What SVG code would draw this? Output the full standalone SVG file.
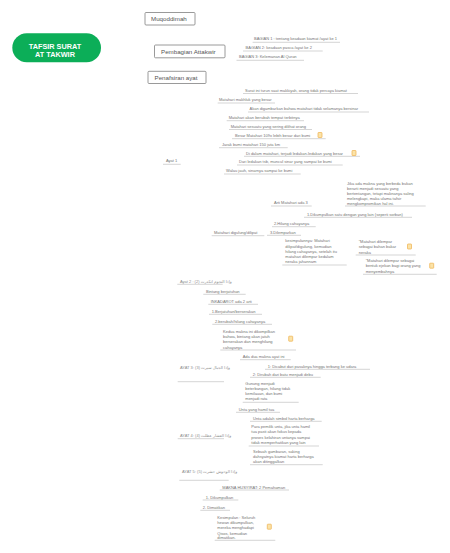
<svg xmlns="http://www.w3.org/2000/svg" width="450" height="553" viewBox="0 0 450 553">
<style>
text{font-family:"Liberation Sans",Arial,"DejaVu Sans",sans-serif;font-size:4px;fill:#737373}
.ar{font-family:"Liberation Sans","DejaVu Sans",sans-serif;fill:#8c8c8c}
.root{font-size:7.3px;font-weight:bold;fill:#fff;text-anchor:middle}
.main{font-size:6.2px;fill:#555}
.box{fill:#fff;stroke:#808080;stroke-width:.8}
.u{stroke:#cacaca;stroke-width:.8;fill:none}
</style>
<defs>
<g id="note"><rect x="-2" y="-2.5" width="4" height="5" rx=".5" fill="#fbe3a8" stroke="#eeb04e" stroke-width=".7"/></g>
</defs>
<rect width="450" height="553" fill="#fff"/>
<g id="connectors">
<path class="u" d="M252.6 42.3H340M243 51H322.7M236.5 60.3H304M243 93.5H358M217.7 103H275M248 112H369M226.7 120.7H304M229 129.5H312M232 138.7H325.7M219 147.7H287.7M244 156.3H360M237 165H342.7M224 174H300.7M163 164.3H180.7M345 206H425.7M271 206H311.7M304 217.3H412M272 226.7H315.7M267 235.3H301M211.7 235.7H264.3M282.3 265H346.7M355.7 255H415.7M363 274.3H436.7M177.3 284.3H222.7M203.3 294.3H245.7M208.3 304.3H258M209 314.3H262M212.3 324.3H272M220.3 350H296M240 359.7H290.7M265 369.3H370M177.7 381.7H224M250 377.3H320.7M242.7 402.3H298.7M236 412.3H280M250 421.3H321.7M248.7 446H319M177.7 438.7H224M250 464.7H322.7M179.3 480.3H228.7M219.7 490H289M202.7 500H238.3M200.3 510.3H230M214.7 540.3H275.3"/>
</g>
<g id="root"><rect x="12.3" y="33.3" width="88.7" height="29" rx="14.5" fill="#0cae58"/><text class="root" x="55" y="48.5">TAFSIR SURAT</text><text class="root" x="55" y="57">AT TAKWIR</text></g>
<g id="muqoddimah"><rect class="box" x="145" y="12.5" width="50" height="12.5" rx="1"/><text class="main" x="151" y="21">Muqoddimah</text></g>
<g id="pembagian"><rect class="box" x="154.5" y="45" width="70.5" height="12.8" rx="1"/><text class="main" x="161" y="53.5">Pembagian Attakwir</text></g>
<g id="penafsiran"><rect class="box" x="148" y="71.3" width="58" height="12.2" rx="1"/><text class="main" x="154.5" y="80">Penafsiran ayat</text></g>
<g id="b1"><text x="254" y="40">BAGIAN 1 : tentang keadaan kiamat /ayat ke 1</text></g>
<g id="b2"><text x="245.6" y="49">BAGIAN 2: keadaan pasca /ayat ke 2</text></g>
<g id="b3"><text x="239" y="58">BAGIAN 3: Kelemanan Al Quran</text></g>
<g id="a1"><text x="245" y="92">Surat ini turun saat makkiyah, orang tidak percaya kiamat</text></g>
<g id="a2"><text x="219" y="101">Matahari makhluk yang besar</text></g>
<g id="a3"><text x="249.5" y="110">Akan digambarkan bahwa matahari tidak selamanya bersinar</text></g>
<g id="a4"><text x="228.7" y="119">Matahari akan berubah tempat terbitnya</text></g>
<g id="a5"><text x="230.7" y="128">Matahari sesuatu yang sering dilihat orang</text></g>
<g id="a6"><text x="235" y="137">Besar Matahari 109x lebih besar dari bumi</text><use href="#note" x="320" y="135"/></g>
<g id="a7"><text x="222" y="146">Jarak bumi matahari 150 juta km</text></g>
<g id="a8"><text x="246" y="154.5">Di dalam matahari, terjadi ledakan-ledakan yang besar</text><use href="#note" x="354" y="153"/></g>
<g id="a9"><text x="239" y="163.3">Dari ledakan tsb, muncul sinar yang sampai ke bumi</text></g>
<g id="a10"><text x="226" y="172">Walau jauh, sinarnya sampai ke bumi</text></g>
<g id="ayat1"><text x="166" y="162">Ayat 1</text></g>
<g id="m1"><text x="347" y="184.5">Jika ada makna yang berbeda bukan</text><text x="347" y="189.5">berarti menjadi sesuatu yang</text><text x="347" y="195">bertentangan, tetapi maknanya saling</text><text x="347" y="200">melengkapi, maka ulama tafsir</text><text x="347" y="205">mengkompromikan hal ini.</text></g>
<g id="m2"><text x="274" y="204">Arti Matahari ada 3</text></g>
<g id="m3"><text x="307" y="215.5">1.Dikumpulkan satu dengan yang lain (seperti sorban)</text></g>
<g id="m4"><text x="274" y="224.5">2.Hilang cahayanya</text></g>
<g id="m5"><text x="270" y="233.5">3.Dilemparkan</text></g>
<g id="m6"><text x="214" y="234">Matahari digulung/dilipat</text></g>
<g id="m7"><text x="285.3" y="242">kesimpulannya: Matahari</text><text x="285.3" y="248">dilipat/digulung, kemudian</text><text x="285.3" y="253">hilang cahayanya, setelah itu</text><text x="285.3" y="258">matahari dilempar kedalam</text><text x="285.3" y="263">neraka jahannam</text></g>
<g id="m8"><text x="358.7" y="243">"Matahari dilempar</text><text x="358.7" y="248">sebagai bahan bakar</text><text x="358.7" y="253.5">neraka</text><use href="#note" x="409.5" y="246.5"/></g>
<g id="m9"><text x="365.7" y="262">"Matahari dilempar sebagai</text><text x="365.7" y="267">bentuk ejekan bagi orang yang</text><text x="365.7" y="273">menyembahnya</text><use href="#note" x="431.7" y="265.7"/></g>
<g id="ayat2"><text class="ar" x="180" y="283">Ayat 2 : <tspan direction="rtl" unicode-bidi="embed">وإذا النجوم انكدرت (2)</tspan></text></g>
<g id="n1"><text x="206" y="293">Bintang berjatuhan</text></g>
<g id="n2"><text x="210.7" y="303">INKADAROT ada 2 arti</text></g>
<g id="n3"><text x="211.7" y="313">1.Berjatuhan/berserakan</text></g>
<g id="n4"><text x="215" y="323">2.berubah/hilang cahayanya</text></g>
<g id="n5"><text x="223" y="333">Kedua makna ini dikompilkan</text><text x="223" y="338">bahwa, bintang akan jatuh</text><text x="223" y="343">berserakan dan menghilang</text><text x="223" y="348.5">cahayanya</text><use href="#note" x="290.7" y="338.7"/></g>
<g id="n6"><text x="242.7" y="358">Ada dua makna ayat ini</text></g>
<g id="n7"><text x="267.7" y="367.5">1: Dicabut dari pasaknya hingga terbang ke udara</text></g>
<g id="n8"><text x="252.7" y="376">2: Dirubah dari batu menjadi debu</text></g>
<g id="ayat3"><text class="ar" x="180" y="369">AYAT 3: <tspan direction="rtl" unicode-bidi="embed">وإذا الجبال سيرت (3)</tspan></text></g>
<g id="n9"><text x="245.3" y="385">Gunung menjadi</text><text x="245.3" y="390">beterbangan, hilang tidak</text><text x="245.3" y="395">kemilauan, dan bumi</text><text x="245.3" y="400">menjadi rata</text></g>
<g id="n10"><text x="238.7" y="410.5">Unta yang hamil tua</text></g>
<g id="n11"><text x="253" y="419.5">Unta adalah simbol harta berharga</text></g>
<g id="n12"><text x="251.3" y="428">Para pemilik unta, jika unta hamil</text><text x="251.3" y="433.3">tua pasti akan fokus kepada</text><text x="251.3" y="438.6">proses kelahiran untanya sampai</text><text x="251.3" y="444">tidak memperhatikan yang lain</text></g>
<g id="ayat4"><text class="ar" x="180" y="437">AYAT 4: <tspan direction="rtl" unicode-bidi="embed">وإذا العشار عطلت (4)</tspan></text></g>
<g id="n13"><text x="253" y="453">Sebuah gambaran, saking</text><text x="253" y="458">dahsyatnya kiamat harta berharga</text><text x="253" y="463">akan ditinggalkan</text></g>
<g id="ayat5"><text class="ar" x="182" y="473">AYAT 5: <tspan direction="rtl" unicode-bidi="embed">وإذا الوحوش حشرت (5)</tspan></text></g>
<g id="n14"><text x="222.3" y="488.5">MAKNA HUSYIRAT: 2 Pemahaman</text></g>
<g id="n15"><text x="205.7" y="498.5">1. Dikumpulkan</text></g>
<g id="n16"><text x="202.7" y="508.5">2. Dimatikan</text></g>
<g id="n17"><text x="217.3" y="518.5">Kesimpulan : Seluruh</text><text x="217.3" y="523.5">hewan dikumpulkan,</text><text x="217.3" y="528.5">mereka menghadapi</text><text x="217.3" y="534.5">Qisos, kemudian</text><text x="217.3" y="539">dimatikan.</text><use href="#note" x="269.3" y="526.7"/></g>
</svg>
